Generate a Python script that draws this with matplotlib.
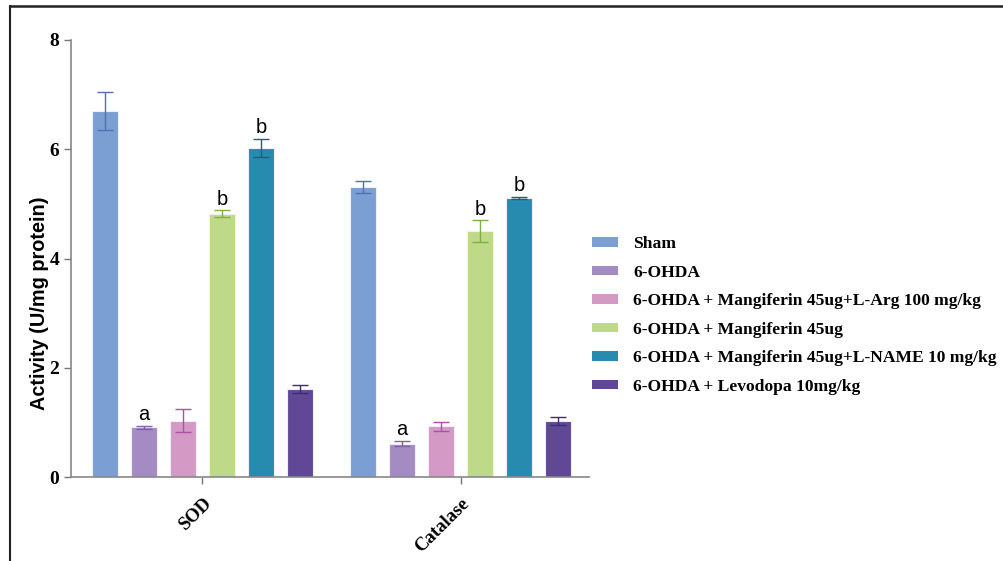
import matplotlib.pyplot as plt
from matplotlib.lines import Line2D
import numpy as np

# data
groups = ['SOD', 'Catalase']
treatments = ['Sham', '6-OHDA',
              '6-OHDA + Mangiferin 45ug+L-Arg 100 mg/kg',
              '6-OHDA + Mangiferin 45ug',
              '6-OHDA + Mangiferin 45ug+L-NAME 10 mg/kg',
              '6-OHDA + Levodopa 10mg/kg']
sod_mean = [6.70, 0.91, 1.03, 4.82, 6.02, 1.61]
sod_err = [0.34, 0.03, 0.21, 0.06, 0.17, 0.07]
cat_mean = [5.30, 0.61, 0.93, 4.50, 5.11, 1.02]
cat_err = [0.11, 0.05, 0.085, 0.20, 0.02, 0.07]
sod_letters = ['', 'a', '', 'b', 'b', '']
cat_letters = ['', 'a', '', 'b', 'b', '']

colors = ['#7B9FD3', '#A58BC3', '#D49AC5', '#BEDA88', '#278BAF', '#604896']
err_colors = ['#4F72AE', '#7E62A3', '#B04FA3', '#7FAF45', '#1C5F7E', '#3E2A6E']

plt.rcParams['font.family'] = ['Liberation Serif', 'DejaVu Serif']

fig = plt.figure(figsize=(10.04, 5.61), dpi=100)
ax = fig.add_axes([71/1004, 1 - 477/561, (589-71)/1004, (477-40)/561])

group_x = [0, 6.62]
means = [sod_mean, cat_mean]
errs = [sod_err, cat_err]
letters = [sod_letters, cat_letters]
width = 0.66

for g, gx in enumerate(group_x):
    for i in range(len(treatments)):
        x = gx + (i - 2.5)
        ax.bar(x, means[g][i], width, color=colors[i], edgecolor='#f0eef6',
               linewidth=0.8, zorder=2,
               label=treatments[i] if g == 0 else None)
        ax.errorbar(x, means[g][i], yerr=errs[g][i], fmt='none',
                    ecolor=err_colors[i], elinewidth=1, capsize=6,
                    capthick=1, zorder=3)
        if letters[g][i]:
            ax.text(x, means[g][i] + errs[g][i] + 0.03, letters[g][i],
                    ha='center', va='bottom', fontsize=14.5,
                    family='Liberation Sans', zorder=4)

ax.set_xlim(-3.37, 9.91)
ax.set_ylim(0, 8)
ax.set_yticks([0, 2, 4, 6, 8])
ax.set_xticks(group_x)
ax.set_xticklabels(groups, rotation=45, ha='right', rotation_mode='anchor',
                   fontsize=13.5, fontweight='bold')
for lab in ax.get_yticklabels():
    lab.set_fontsize(14)
    lab.set_fontweight('bold')
ax.tick_params(axis='both', color='#777777', length=5, width=1)
ax.tick_params(axis='x', pad=8)
for s in ['top', 'right']:
    ax.spines[s].set_visible(False)
for s in ['left', 'bottom']:
    ax.spines[s].set_color('#888888')
    ax.spines[s].set_linewidth(1.2)

ax.set_ylabel('Activity (U/mg protein)', fontsize=14.3, fontweight='bold',
              family='Liberation Sans')
ax.yaxis.set_label_coords(-0.043, 0.398)

leg = fig.legend(loc='center left', bbox_to_anchor=(592/1004, 1 - 315.5/561),
                 frameon=False, prop={'weight': 'bold', 'size': 12.6},
                 handlelength=1.5, handleheight=0.46, labelspacing=0.71,
                 handletextpad=0.86, borderpad=0, borderaxespad=0)
for h in leg.legend_handles:
    h.set_edgecolor('none')

# outer frame lines (top and left)
fig.add_artist(Line2D([10/1004, 1], [1 - 6/561, 1 - 6/561], color='#222222', lw=1.8))
fig.add_artist(Line2D([10/1004, 10/1004], [0, 1 - 6/561], color='#222222', lw=1.5))

fig.savefig('out.png', dpi=100)
